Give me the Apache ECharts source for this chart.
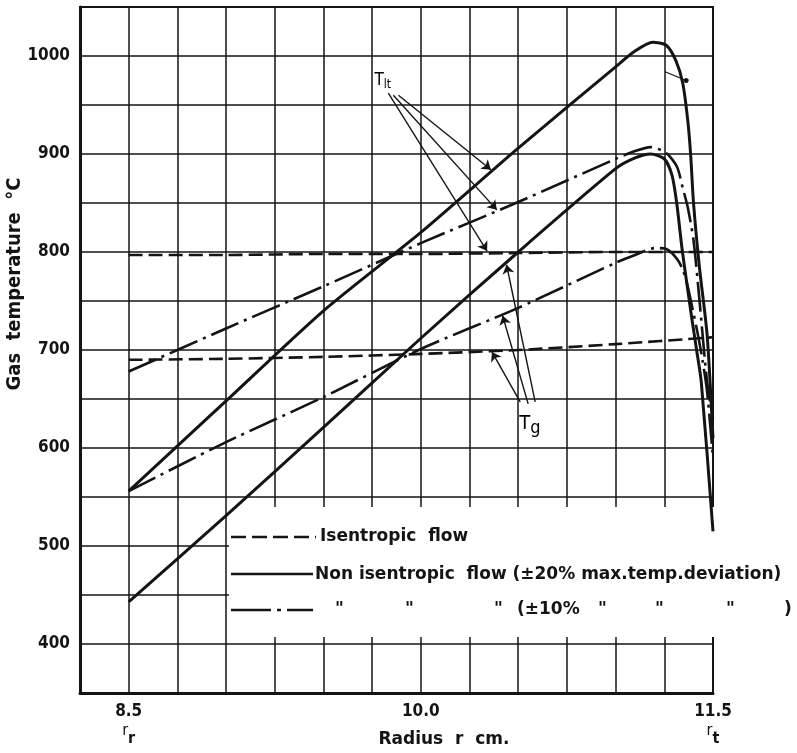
<!DOCTYPE html>
<html><head><meta charset="utf-8">
<script src="https://cdn.jsdelivr.net/npm/echarts@6/dist/echarts.min.js"></script>
<style>html,body{margin:0;padding:0;background:#fff}#c{width:797px;height:753px}</style>
</head><body><div id="c"></div>
<script>
// ---------- data ----------
const xTickLabels = {'8.5':'8.5','10':'10.0','11.5':'11.5'};
const xTickSubs = {'8.5':'r','11.5':'t'};
const yTickLabels = [400,500,600,700,800,900,1000];

// Isentropic flow (dashed)
const tltIsentropic = [[8.5,797],[9.0,797],[9.5,798],[10.0,798],[10.5,799],[11.0,800],[11.5,800]];
const tgIsentropic  = [[8.5,690],[9.0,691],[9.5,693],[10.0,696],[10.5,700],[11.0,706],[11.5,713]];

// Non isentropic flow, +-20% (solid)
const tlt20 = [[8.5,556],[9.0,648],[9.5,740],[10.0,820],[10.5,906],[11.0,989],[11.1,1005],[11.19,1014],[11.26,1011],[11.31,995],[11.345,972],[11.37,935],[11.385,900],[11.4,850],[11.43,785],[11.47,715],[11.5,610]];
const tg20  = [[8.5,443],[9.0,531],[9.5,621],[10.0,712],[10.5,800],[11.0,885],[11.1,896],[11.18,900],[11.25,895],[11.29,878],[11.315,848],[11.34,805],[11.365,769],[11.39,734],[11.415,701],[11.44,667],[11.5,515]];

// Non isentropic flow, +-10% (dash-dot)
const tlt10 = [[8.5,678],[9.0,722],[9.5,765],[10.0,809],[10.5,851],[11.0,895],[11.1,903],[11.18,907],[11.26,901],[11.315,887],[11.345,865],[11.37,846],[11.4,812],[11.43,752],[11.47,667],[11.5,630]];
const tg10  = [[8.5,556],[9.0,606],[9.5,652],[10.0,701],[10.5,743],[11.0,789],[11.1,797],[11.2,804],[11.26,803],[11.315,793],[11.345,782],[11.37,765],[11.395,742],[11.42,718],[11.445,691],[11.47,657],[11.5,590]];

// annotation arrows (data coordinates: start -> end)
const tltArrows = [[[9.885,960],[10.36,884]],[[9.859,960],[10.39,843]],[[9.833,962],[10.34,801]]];
const tgArrows  = [[[10.587,647],[10.44,787]],[[10.551,645],[10.42,735]],[[10.51,647],[10.365,698]]];
const tltLeader = [[11.254,984],[11.362,975]];
const tltLabelAt = [9.762, 985];
const tgLabelAt  = [10.505, 639];

// ---------- chart ----------
const INK = '#141414';
const FONT = "'DejaVu Sans Condensed','DejaVu Sans',sans-serif";
const WFONT = "'DejaVu Sans',sans-serif";
const chart = echarts.init(document.getElementById('c'), null, {renderer:'canvas'});

function curve(data, style){
  return {type:'line', data, symbol:'none', showSymbol:false, smooth:0.25,
    lineStyle:Object.assign({color:INK, cap:'butt', join:'round'}, style), z:3, silent:true, animation:false};
}
const DASH = [14,6], DASHDOT = [30,6,3,6];

chart.setOption({
  animation:false,
  backgroundColor:'#fff',
  grid:{left:80, right:84, top:7, bottom:60, show:true, borderColor:INK, borderWidth:2, backgroundColor:'transparent'},
  xAxis:{type:'value', min:8.25, max:11.5, interval:0.25,
    axisLine:{show:true, onZero:false, lineStyle:{color:INK, width:3}},
    axisTick:{show:false},
    splitLine:{show:true, lineStyle:{color:INK, width:1.5}},
    axisLabel:{margin:8, showMinLabel:true, showMaxLabel:true,
      formatter:function(v){const k=String(+v.toFixed(2)); if(!xTickLabels[k]) return '';
        let s='{v|'+xTickLabels[k]+'}'; if(xTickSubs[k]) s+='\n{a|r}{b|'+xTickSubs[k]+'}'; return s;},
      rich:{v:{fontSize:17, fontWeight:'bold', fontFamily:FONT, color:INK, lineHeight:22},
            a:{fontSize:16, fontFamily:FONT, color:INK, lineHeight:24, verticalAlign:'top'},
            b:{fontSize:16, fontWeight:'bold', fontFamily:FONT, color:INK, lineHeight:24, verticalAlign:'bottom', padding:[8,0,0,0]}}}
  },
  yAxis:{type:'value', min:350, max:1050, interval:50,
    axisLine:{show:true, lineStyle:{color:INK, width:3}},
    axisTick:{show:false},
    splitLine:{show:true, lineStyle:{color:INK, width:1.5}},
    axisLabel:{margin:10, fontSize:17, fontWeight:'bold', fontFamily:FONT, color:INK,
      formatter:function(v){return yTickLabels.indexOf(v)>=0 ? String(v) : '';}}
  },
  series:[
    curve(tltIsentropic,{width:2.6, type:DASH}),
    curve(tgIsentropic,{width:2.6, type:DASH}),
    curve(tlt20,{width:3}),
    curve(tg20,{width:3}),
    curve(tlt10,{width:2.6, type:DASHDOT}),
    curve(tg10,{width:2.6, type:DASHDOT}),
    {type:'lines', coordinateSystem:'cartesian2d', silent:true, z:4,
      data:tltArrows.concat(tgArrows).map(a=>({coords:a})),
      symbol:['none','arrow'], symbolSize:9, lineStyle:{color:INK, width:1.4, opacity:1}},
    {type:'lines', coordinateSystem:'cartesian2d', silent:true, z:4,
      data:[{coords:tltLeader}], symbol:['none','circle'], symbolSize:5, lineStyle:{color:INK, width:1.2, opacity:1}}
  ]
});

const pLt = chart.convertToPixel({gridIndex:0}, tltLabelAt);
const pG  = chart.convertToPixel({gridIndex:0}, tgLabelAt);
function txt(x,y,t,extra){return {type:'text', z:6, x, y, style:Object.assign({text:t, fill:INK, font:"bold 17px "+WFONT, verticalAlign:'middle'}, extra||{})};}

chart.setOption({graphic:[
  {type:'rect', z:1, shape:{x:229, y:507, width:568, height:130}, style:{fill:'#fff'}},
  {type:'line', z:6, shape:{x1:231,y1:537,x2:316,y2:537}, style:{stroke:INK, lineWidth:2.6, lineDash:[15,6]}},
  {type:'line', z:6, shape:{x1:231,y1:574,x2:313,y2:574}, style:{stroke:INK, lineWidth:2.6}},
  {type:'line', z:6, shape:{x1:231,y1:610,x2:313,y2:610}, style:{stroke:INK, lineWidth:2.6, lineDash:[40,6,4,6]}},
  txt(320,537,'Isentropic  flow'),
  txt(315,575,'Non isentropic  flow (±20% max.temp.deviation)'),
  txt(335,610,'"'), txt(405,610,'"'), txt(494,610,'"'),
  txt(517,610,'(±10%'), txt(598,610,'"'), txt(655,610,'"'), txt(726,610,'"'), txt(784,610,')'),
  {type:'text', z:6, x:pLt[0], y:pLt[1], style:{text:'{t|T}{s|lt}', rich:{t:{fontSize:17, fontFamily:FONT, color:INK}, s:{fontSize:12, fontFamily:FONT, color:INK, padding:[8,0,0,0]}}, verticalAlign:'top'}},
  {type:'text', z:6, x:pG[0], y:pG[1], style:{text:'{t|T}{s|g}', rich:{t:{fontSize:20, fontFamily:FONT, color:INK}, s:{fontSize:18, fontFamily:FONT, color:INK, padding:[10,0,0,0]}}, verticalAlign:'top'}},
  {type:'text', z:6, x:15, y:284, rotation:Math.PI/2, style:{text:'Gas  temperature  °C', fill:INK, font:"bold 20px "+FONT, align:'center', verticalAlign:'middle'}},
  {type:'text', z:6, x:444, y:740, style:{text:'Radius  r  cm.', fill:INK, font:"bold 17px "+WFONT, align:'center', verticalAlign:'middle'}}
]});
</script></body></html>
